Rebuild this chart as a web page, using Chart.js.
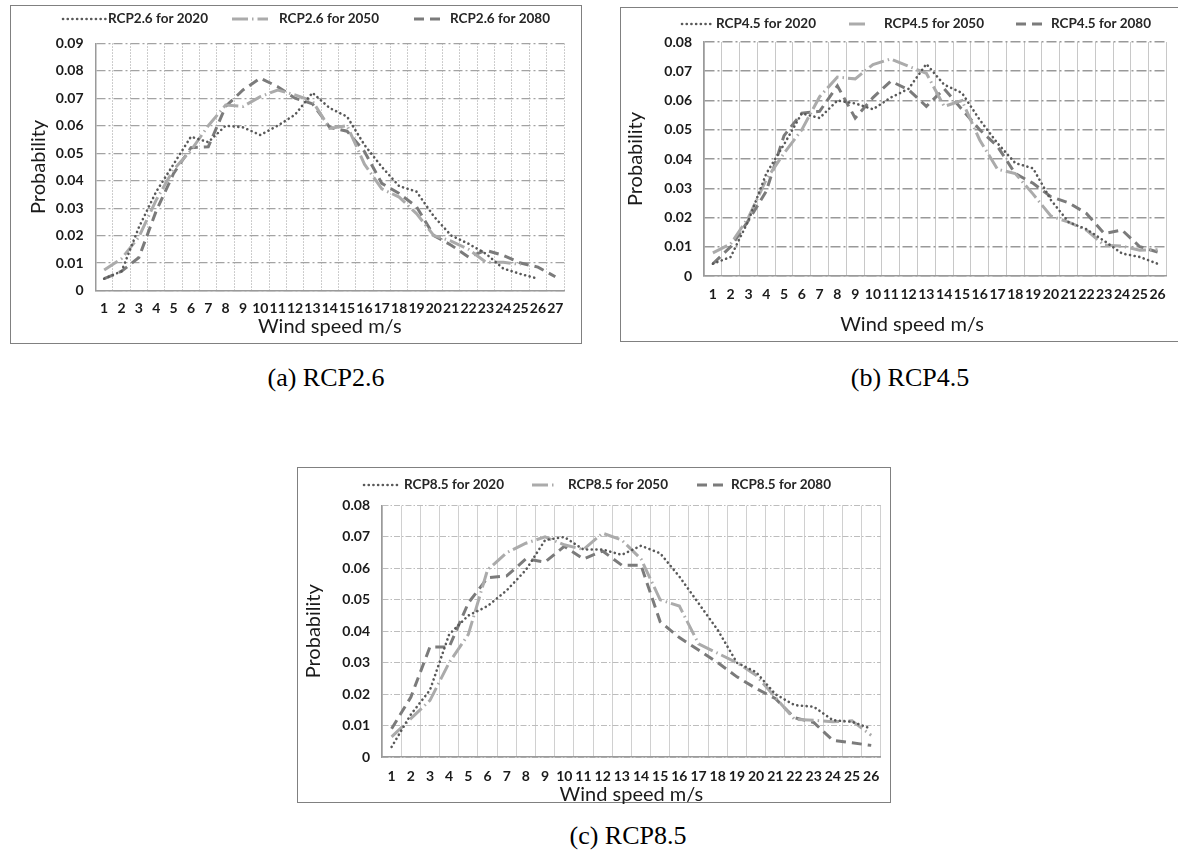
<!DOCTYPE html>
<html><head><meta charset="utf-8">
<script src="https://cdn.jsdelivr.net/npm/chart.js@4.4.1/dist/chart.umd.min.js"></script>
<style>
html,body{margin:0;padding:0;background:#fff}
body{width:1178px;height:864px;position:relative;overflow:hidden}
canvas{position:absolute}
.box{position:absolute;border:1px solid #808080;box-sizing:border-box;pointer-events:none}
.cap{position:absolute;font-family:"Liberation Serif","Times New Roman",serif;font-size:26px;color:#000;transform:translate(-50%,-50%);white-space:nowrap}
</style></head>
<body>
<div class="box" style="left:10px;top:5px;width:572px;height:339px"></div>
<div class="box" style="left:620px;top:7px;width:600px;height:335px"></div>
<div class="box" style="left:297px;top:467px;width:594px;height:336px"></div>
<canvas id="cA" width="572" height="339" style="left:10px;top:5px"></canvas>
<canvas id="cB" width="558" height="335" style="left:620px;top:7px"></canvas>
<canvas id="cC" width="594" height="345" style="left:297px;top:467px"></canvas>
<div class="cap" style="left:326px;top:378px">(a) RCP2.6</div>
<div class="cap" style="left:910px;top:378px">(b) RCP4.5</div>
<div class="cap" style="left:628px;top:836px">(c) RCP8.5</div>
<script>
// ---------- data ----------
const categories27 = ['1','2','3','4','5','6','7','8','9','10','11','12','13','14','15','16','17','18','19','20','21','22','23','24','25','26','27'];
const categories26 = ['1','2','3','4','5','6','7','8','9','10','11','12','13','14','15','16','17','18','19','20','21','22','23','24','25','26'];

const yTickValuesA = [0,0.01,0.02,0.03,0.04,0.05,0.06,0.07,0.08,0.09];
const yTickLabelsA = ['0','0.01','0.02','0.03','0.04','0.05','0.06','0.07','0.08','0.09'];
const yTickValuesBC = [0,0.01,0.02,0.03,0.04,0.05,0.06,0.07,0.08];
const yTickLabelsBC = ['0','0.01','0.02','0.03','0.04','0.05','0.06','0.07','0.08'];

const labelsA = ['RCP2.6 for 2020','RCP2.6 for 2050','RCP2.6 for 2080'];
const labelsB = ['RCP4.5 for 2020','RCP4.5 for 2050','RCP4.5 for 2080'];
const labelsC = ['RCP8.5 for 2020','RCP8.5 for 2050','RCP8.5 for 2080'];

const rcp26_2020 = [0.0043,0.007,0.023,0.036,0.046,0.056,0.054,0.060,0.0594,0.0566,0.060,0.064,0.072,0.0664,0.0633,0.053,0.045,0.038,0.036,0.027,0.020,0.017,0.0134,0.008,0.006,0.0043,null];
const rcp26_2050 = [0.0075,0.0116,0.0195,0.033,0.044,0.051,0.060,0.0675,0.067,0.0706,0.073,0.0712,0.069,0.059,0.060,0.046,0.037,0.034,0.028,0.020,0.018,0.015,0.0103,0.0103,0.0095,null,null];
const rcp26_2080 = [0.0043,0.007,0.012,0.029,0.0426,0.052,0.0523,0.067,0.073,0.0773,0.0742,0.070,0.068,0.0594,0.058,0.0506,0.039,0.0353,0.0305,0.020,0.0165,0.0122,0.0146,0.0128,0.010,0.0085,0.005];

const rcp45_2020 = [0.0042,0.0065,0.019,0.035,0.045,0.0556,0.054,0.060,0.059,0.057,0.061,0.064,0.0725,0.0654,0.0626,0.0534,0.0454,0.0386,0.0368,0.026,0.0184,0.016,0.012,0.0077,0.0065,0.0042];
const rcp45_2050 = [0.0079,0.011,0.020,0.033,0.042,0.050,0.0613,0.068,0.0674,0.0723,0.0742,0.0717,0.0693,0.058,0.060,0.0465,0.0365,0.035,0.028,0.0205,0.0184,0.0157,0.0105,0.0102,0.0088,0.009];
const rcp45_2080 = [0.0042,0.010,0.019,0.029,0.048,0.0557,0.0563,0.065,0.054,0.061,0.0666,0.0637,0.058,0.064,0.057,0.050,0.0443,0.035,0.0317,0.0271,0.025,0.0214,0.0145,0.0157,0.010,0.0082];

const rcp85_2020 = [0.0032,0.0135,0.0213,0.039,0.045,0.048,0.053,0.0595,0.069,0.070,0.066,0.066,0.0643,0.0672,0.0648,0.0574,0.0489,0.0404,0.030,0.027,0.020,0.0165,0.016,0.0117,0.0112,0.009];
const rcp85_2050 = [0.0064,0.0122,0.018,0.030,0.039,0.0595,0.065,0.068,0.070,0.0675,0.066,0.0712,0.069,0.063,0.050,0.048,0.036,0.033,0.030,0.026,0.019,0.012,0.0117,0.0112,0.0115,0.0069];
const rcp85_2080 = [0.009,0.019,0.035,0.035,0.049,0.057,0.0576,0.063,0.062,0.067,0.063,0.0655,0.061,0.061,0.043,0.038,0.034,0.030,0.0255,0.0218,0.0186,0.0125,0.011,0.0053,0.0045,0.0037];

const xTitle = 'Wind speed m/s';
const yTitle = 'Probability';

// ---------- styles ----------
const seriesStyles = [
  {borderColor:'#595959', borderWidth:2.6, borderDash:[0.1,4.6], borderCapStyle:'round'},
  {borderColor:'#ababab', borderWidth:3, borderDash:[16,4,1.5,4], borderCapStyle:'butt'},
  {borderColor:'#7b7b7b', borderWidth:3, borderDash:[10,6], borderCapStyle:'butt'}
];

const lineLegend = {
  id:'lineLegend',
  afterDraw(chart, args, opts){
    const ctx = chart.ctx;
    chart.data.datasets.forEach((ds,i)=>{
      const it = opts.items[i];
      ctx.save();
      ctx.strokeStyle = ds.borderColor;
      ctx.lineWidth = ds.borderWidth;
      ctx.setLineDash(ds.borderDash || []);
      ctx.lineCap = ds.borderCapStyle || 'butt';
      ctx.beginPath(); ctx.moveTo(it.x1, opts.y); ctx.lineTo(it.x2, opts.y); ctx.stroke();
      ctx.setLineDash([]);
      ctx.fillStyle = '#262626';
      ctx.font = 'bold 13.5px Lato';
      ctx.textBaseline = 'middle'; ctx.textAlign = 'left';
      ctx.fillText(ds.label, it.tx, opts.y);
      ctx.restore();
    });
    if (opts.xTitleAt) {
      ctx.save();
      ctx.fillStyle = '#1a1a1a';
      ctx.font = '20px Lato';
      ctx.textBaseline = 'middle'; ctx.textAlign = 'center';
      ctx.fillText(xTitle, opts.xTitleAt.x, opts.xTitleAt.y);
      ctx.restore();
    }
  }
};

function makeChart(id, g){
  const datasets = g.series.map((s,i)=>Object.assign({
    label: g.labels[i], data: s, pointRadius:0, pointHoverRadius:0, tension:0, fill:false, spanGaps:false
  }, seriesStyles[i]));
  return new Chart(document.getElementById(id), {
    type:'line',
    data:{labels:g.categories, datasets},
    plugins:[lineLegend],
    options:{
      responsive:false, animation:false, devicePixelRatio:1,
      layout:{padding:{left:0, top:g.top, right:g.right, bottom:0}},
      plugins:{legend:{display:false}, tooltip:{enabled:false}, lineLegend:g.legend},
      scales:{
        x:{
          type:'category', offset:true,
          grid:{offset:true, color:g.vGridColor, lineWidth:g.vGridWidth, drawTicks:false},
          border:{display:true, color:'#9a9a9a', width:1.5, dash:g.vGridDash},
          ticks:{autoSkip:false, maxRotation:0, minRotation:0, padding:g.xTickPad, color:'#1a1a1a', font:{family:'Lato', size:14, weight:'bold'}},
          title:{display:!g.legend.xTitleAt, text:xTitle, color:'#1a1a1a', font:{family:'Lato', size:20, weight:'normal'}, padding:{top:0, bottom:g.xTitlePad}},
          afterFit:(s)=>{ s.height = g.xHeight; }
        },
        y:{
          min:0, max:g.yMax,
          afterBuildTicks:(s)=>{ s.ticks = g.yTickValues.map(v=>({value:v})); },
          grid:{color:g.hGridColor, lineWidth:g.hGridWidth, drawTicks:false},
          border:{display:true, color:'#9a9a9a', width:1.5, dash:g.hGridDash},
          ticks:{padding:12, color:'#1a1a1a', font:{family:'Lato', size:14, weight:'bold'}, callback:(v,i)=>g.yTickLabels[i]},
          title:{display:true, text:yTitle, color:'#1a1a1a', font:{family:'Lato', size:20, weight:'normal'}, padding:{top:g.yTitlePad, bottom:0}},
          afterFit:(s)=>{ s.width = g.yWidth; }
        }
      }
    }
  });
}

makeChart('cA', {
  categories:categories27, series:[rcp26_2020, rcp26_2050, rcp26_2080], labels:labelsA,
  yMax:0.09, yTickValues:yTickValuesA, yTickLabels:yTickLabelsA,
  top:38.3, right:18, yWidth:85.5, xHeight:53.5, xTickPad:10, xTitlePad:5, yTitlePad:17,
  vGridColor:'#bdbdbd', vGridWidth:1, vGridDash:[1.5,1.5],
  hGridColor:'#a3a3a3', hGridWidth:1.2, hGridDash:[9,3,2,3],
  legend:{y:14, items:[{x1:53,x2:96,tx:98},{x1:222,x2:258,tx:269},{x1:404,x2:436,tx:440}]}
});

makeChart('cB', {
  categories:categories26, series:[rcp45_2020, rcp45_2050, rcp45_2080], labels:labelsB,
  yMax:0.08, yTickValues:yTickValuesBC, yTickLabels:yTickLabelsBC,
  top:35, right:11.5, yWidth:84, xHeight:66, xTickPad:10.5, xTitlePad:5, yTitlePad:4,
  vGridColor:'#c8c8c8', vGridWidth:1, vGridDash:[],
  hGridColor:'#999999', hGridWidth:1.5, hGridDash:[10,3,2,3],
  legend:{y:17, items:[{x1:62,x2:94,tx:96},{x1:229,x2:249,tx:264},{x1:396,x2:427,tx:431}], xTitleAt:{x:292, y:318}}
});

makeChart('cC', {
  categories:categories26, series:[rcp85_2020, rcp85_2050, rcp85_2080], labels:labelsC,
  yMax:0.08, yTickValues:yTickValuesBC, yTickLabels:yTickLabelsBC,
  top:38.5, right:8, yWidth:85, xHeight:55, xTickPad:11.5, xTitlePad:5, yTitlePad:5,
  vGridColor:'#d0d0d0', vGridWidth:1, vGridDash:[],
  hGridColor:'#bdbdbd', hGridWidth:1, hGridDash:[6,2,1.5,2],
  legend:{y:18, items:[{x1:67,x2:103,tx:107},{x1:235,x2:257,tx:271},{x1:400,x2:430,tx:434}]}
});
</script>
</body></html>
